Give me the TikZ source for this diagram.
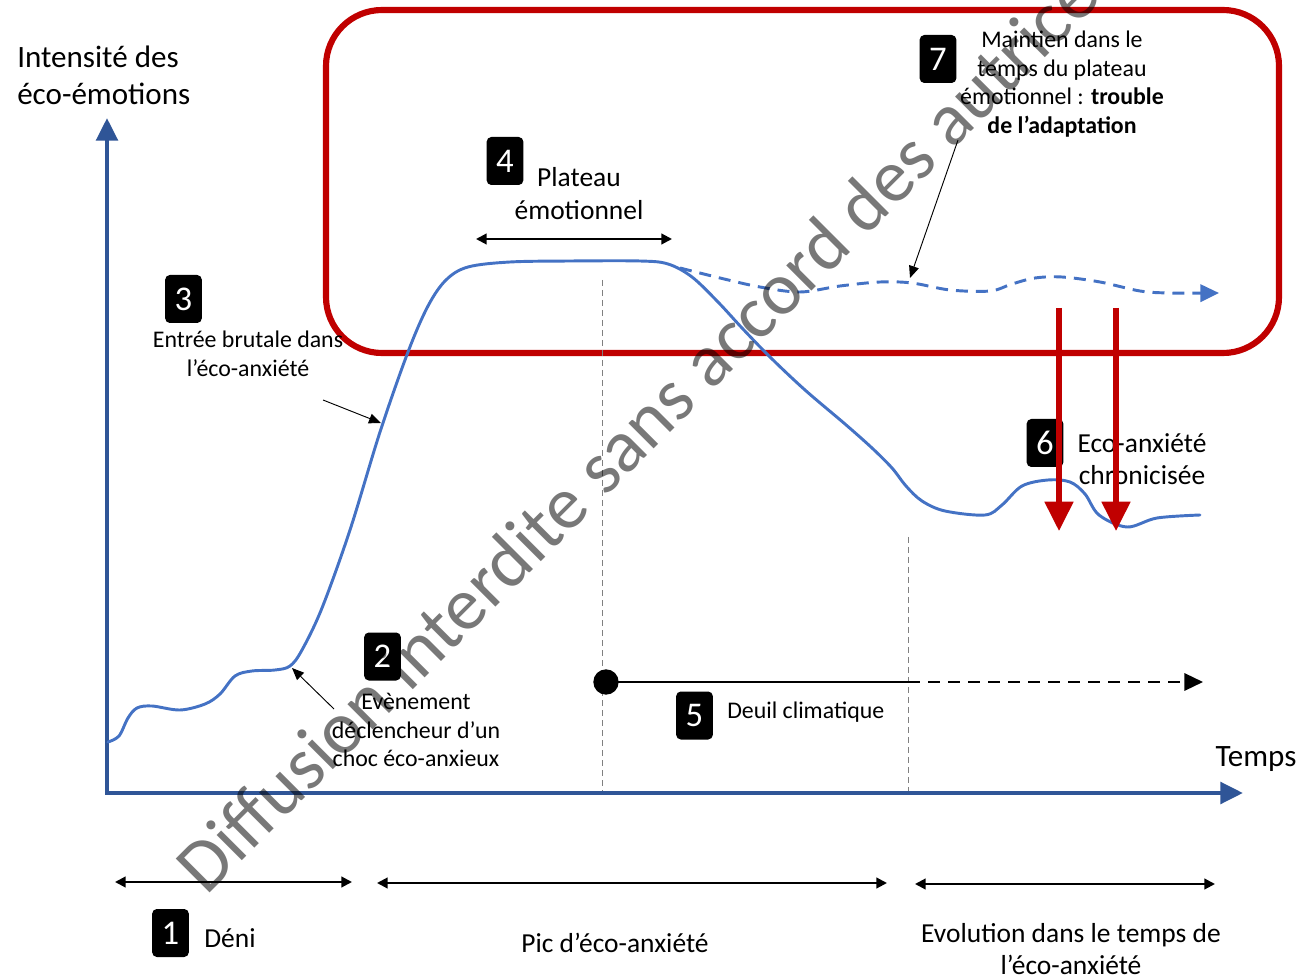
\documentclass[tikz,border=0pt]{standalone}
\usepackage{fontspec}
\setmainfont{Carlito}
\usetikzlibrary{arrows.meta}
\definecolor{axisblue}{HTML}{2F5597}
\definecolor{curveblue}{HTML}{4472C4}
\definecolor{boxred}{HTML}{C00000}
\begin{document}
\begin{tikzpicture}[x=0.75pt,y=-0.75pt,
  numbox/.style={fill=black, text=white, rounded corners=3.5pt, minimum width=27.5pt,
    minimum height=36pt, inner sep=0pt, font=\fontsize{26}{26}\selectfont},
  lbl/.style={inner sep=0pt, align=center},
  big/.style={font=\fontsize{23.3}{27.8}\selectfont},
  mid/.style={font=\fontsize{20.6}{24.5}\selectfont},
  small/.style={font=\fontsize{17.9}{21.5}\selectfont},
  axis/.style={draw=axisblue, line width=3.4pt,
    {Triangle[length=17pt,width=16pt]}-{Triangle[length=17pt,width=16pt]}},
  curve/.style={draw=curveblue, line width=2.2pt, line join=round, line cap=round},
  span/.style={draw=black, line width=1.6pt,
    {Triangle[length=8pt,width=8pt]}-{Triangle[length=8pt,width=8pt]}},
  pointer/.style={draw=black, line width=0.7pt, -{Triangle[length=9pt,width=7.5pt]}},
  guide/.style={draw=black!50, line width=0.75pt, dash pattern=on 4.5pt off 3pt},
  redarrow/.style={draw=boxred, line width=3.8pt, -{Triangle[length=22pt,width=21pt]}},
  watermark/.style={inner sep=0pt, text=black, text opacity=0.53,
    font=\fontsize{56}{56}\selectfont, rotate=45, anchor=base west}
]
\useasboundingbox (0,0) rectangle (1304,980);

% zone of the emotional plateau
\draw[boxred, line width=4.6pt, rounded corners=42pt] (326,10) rectangle (1279,353);

% period guides
\coordinate (g1t) at (602,280); \coordinate (g1b) at (602,793);
\coordinate (g2t) at (908,537); \coordinate (g2b) at (908,793);
\draw[guide] (g1t) -- (g1b);
\draw[guide] (g2t) -- (g2b);

% axes
\coordinate (ytop) at (107,118);
\coordinate (O) at (107,793);
\coordinate (xend) at (1243,793);
\draw[axis] (ytop) -- (O) -- (xend);

% intensity curve
\draw[curve] plot[smooth, tension=0.55] coordinates {
  (108,742) (119,736) (128,718) (137,708) (152,706) (180,710) (205,704) (220,694)
  (235,676) (252,671) (275,670) (290,666) (302,650) (322,608) (350,530) (380,432)
  (408,352) (428,306) (446,280) (468,267) (510,262) (570,261) (640,261) (668,264)
  (692,277) (718,302) (742,328) (770,357) (805,390) (845,424) (872,448) (892,468)
  (906,486) (922,501) (945,511) (985,515) (1002,505) (1022,486) (1048,480) (1070,482)
  (1085,494) (1099,515) (1127,527) (1157,518) (1200,515)};
% prolonged plateau
\coordinate (dend) at (1219,293);
\draw[curve, line cap=butt, dash pattern=on 9pt off 6pt,
  -{Triangle[length=14pt,width=13pt]}]
  plot[smooth, tension=0.55] coordinates {
  (680,268) (720,278) (760,287) (800,292) (840,286) (880,282) (912,283) (950,290)
  (990,291) (1012,284) (1035,278) (1062,277) (1100,282) (1140,291) (1170,293) (1219,293)};

% durations under the axis
\coordinate (s1a) at (115,882); \coordinate (s1b) at (352,882);
\coordinate (s2a) at (377,883); \coordinate (s2b) at (887,883);
\coordinate (s3a) at (915,884); \coordinate (s3b) at (1215,884);
\draw[span] (s1a) -- (s1b);
\draw[span] (s2a) -- (s2b);
\draw[span] (s3a) -- (s3b);
\coordinate (p4a) at (476,239); \coordinate (p4b) at (672,239);
\draw[span] (p4a) -- (p4b);

% climate grief
\coordinate (dstart) at (606,682);
\coordinate (dmid) at (908,682);
\coordinate (dtip) at (1203,682);
\draw[line width=1.8pt] (dstart) -- (dmid);
\draw[line width=1.8pt, dash pattern=on 9pt off 6pt, -{Triangle[length=14pt,width=13pt]}] (dmid) -- (dtip);
\fill (dstart) circle (9.5pt);

% labels
\node[lbl, big, align=left, anchor=west] (ylab) at (17,75) {Intensité des\\éco-émotions};
\node[lbl, big] (xlab) at (1256,759) {Temps};

\node[numbox] (n1) at (170.5,933) {1};
\node[lbl, mid, anchor=west] (t1) at (204,938) {Déni};

\node[numbox] (n2) at (382.5,656.5) {2};
\node[lbl, small] (t2) at (416,730) {Evènement\\déclencheur d’un\\choc éco-anxieux};

\node[numbox] (n3) at (183.5,299) {3};
\node[lbl, small] (t3) at (248,354) {Entrée brutale dans\\l’éco-anxiété};

\node[numbox] (n4) at (505,161) {4};
\node[lbl, mid] (t4) at (579,193.5) {Plateau\\émotionnel};

\node[numbox] (n5) at (694.5,715.5) {5};
\node[lbl, small, anchor=west] (t5) at (727,712) {Deuil climatique};

\node[numbox] (n6) at (1045,443) {6};
\node[lbl, mid] (t6) at (1142,459) {Eco-anxiété\\chronicisée};

\node[numbox] (n7) at (938,59) {7};
\node[lbl, small] (t7) at (1062,84) {Maintien dans le\\temps du plateau\\émotionnel : \textbf{trouble}\\\textbf{de l’adaptation}};

\node[lbl, mid] (tpic) at (615,943) {Pic d’éco-anxiété};
\node[lbl, mid] (tevo) at (1071,949) {Evolution dans le temps de\\l’éco-anxiété};

% pointers to the curve
\coordinate (a3s) at (323,400); \coordinate (a3e) at (381,423);
\coordinate (a2s) at (334,709); \coordinate (a2e) at (292,668);
\coordinate (a7s) at (958,140); \coordinate (a7e) at (910,278);
\draw[pointer] (a3s) -- (a3e);
\draw[pointer] (a2s) -- (a2e);
\draw[pointer] (a7s) -- (a7e);

% shift to chronic eco-anxiety
\coordinate (r1s) at (1059,308); \coordinate (r1e) at (1059,531);
\coordinate (r2s) at (1116,308); \coordinate (r2e) at (1116,531);
\draw[redarrow] (r1s) -- (r1e);
\draw[redarrow] (r2s) -- (r2e);

% diffusion notice
\node[watermark] (wm) at (206,897) {Diffusion interdite sans accord des autrices};
\end{tikzpicture}
\end{document}
